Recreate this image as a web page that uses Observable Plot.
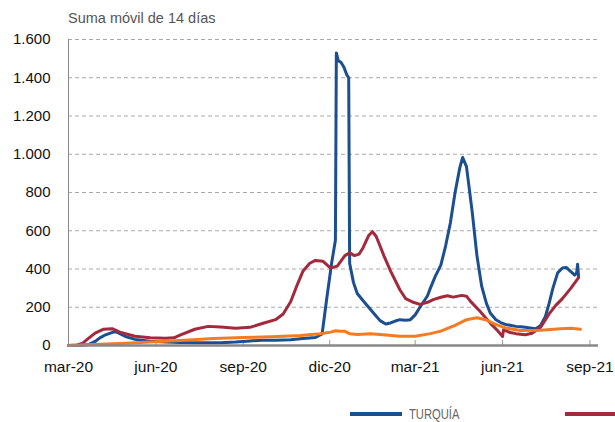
<!DOCTYPE html>
<html><head><meta charset="utf-8">
<script src="https://cdn.jsdelivr.net/npm/d3@7"></script>
<script src="https://cdn.jsdelivr.net/npm/@observablehq/plot@0.6"></script>
<style>
html,body{margin:0;padding:0;background:#fff;overflow:hidden;}
#wrap{position:relative;width:615px;height:422px;overflow:hidden;font-family:"Liberation Sans",Arial,Helvetica,sans-serif;}
#title{position:absolute;left:68px;top:10px;font-size:14.5px;color:#555;white-space:nowrap;}
#chart{position:absolute;left:0;top:30px;}
.sw{position:absolute;top:412px;height:4px;}
.lab{position:absolute;top:405px;font-family:"Liberation Sans",Arial,sans-serif;font-size:14px;color:#666;white-space:nowrap;line-height:18px;transform:scaleX(0.8);transform-origin:0 50%;}
</style>
</head><body>
<div id="wrap">
  <div id="title">Suma móvil de 14 días</div>
  <div id="chart"></div>
  <div class="sw" style="left:350px;width:52px;background:#1c4f92"></div>
  <div class="lab" style="left:409px">TURQUÍA</div>
  <div class="sw" style="left:565px;width:60px;background:#a32a3c"></div>
</div>
<script>
// ---- data (14-day moving sum) ----
const turquia = [
["2020-03-01",0],["2020-03-14",0],["2020-03-22",5],["2020-03-29",21],["2020-04-03",40],["2020-04-09",56],
["2020-04-17",70],["2020-04-20",72],["2020-04-24",62],["2020-05-01",45],["2020-05-10",32],["2020-05-26",22],
["2020-06-11",18],["2020-06-27",16],["2020-07-12",14],["2020-07-26",14],["2020-08-08",15],["2020-08-24",18],
["2020-09-08",24],["2020-09-21",28],["2020-10-05",28],["2020-10-21",30],["2020-11-03",36],["2020-11-16",42],
["2020-11-23",60],["2020-11-28",250],["2020-12-03",430],["2020-12-07",550],["2020-12-08",1530],["2020-12-10",1490],
["2020-12-13",1480],["2020-12-16",1455],["2020-12-19",1415],["2020-12-21",1400],["2020-12-22",430],["2020-12-26",330],["2020-12-30",272],
["2021-01-05",235],["2021-01-11",200],["2021-01-17",165],["2021-01-23",130],["2021-01-29",112],["2021-02-03",118],
["2021-02-08",128],["2021-02-13",135],["2021-02-19",132],["2021-02-24",135],["2021-03-01",160],["2021-03-06",200],
["2021-03-14",260],["2021-03-17",300],["2021-03-22",360],["2021-03-28",420],["2021-04-02",520],["2021-04-07",640],
["2021-04-12",800],["2021-04-17",930],["2021-04-20",983],["2021-04-24",935],["2021-04-30",700],["2021-05-05",470],
["2021-05-10",310],["2021-05-15",220],["2021-05-19",170],["2021-05-25",135],["2021-05-30",120],["2021-06-04",110],
["2021-06-09",106],["2021-06-15",100],["2021-06-20",98],["2021-06-25",95],["2021-06-30",92],["2021-07-06",88],
["2021-07-11",105],["2021-07-16",150],["2021-07-20",220],["2021-07-24",300],["2021-07-29",380],["2021-08-03",405],
["2021-08-07",408],["2021-08-11",390],["2021-08-16",368],["2021-08-18",380],["2021-08-19",425],["2021-08-20",360]
];
const zonaRoja = [
["2020-03-01",0],["2020-03-10",3],["2020-03-16",12],["2020-03-22",37],["2020-03-29",65],["2020-04-07",85],
["2020-04-16",88],["2020-04-24",70],["2020-05-10",48],["2020-05-26",40],["2020-06-11",38],["2020-06-20",40],
["2020-06-27",55],["2020-07-12",85],["2020-07-26",100],["2020-08-08",97],["2020-08-24",90],["2020-09-08",95],
["2020-09-21",115],["2020-10-05",135],["2020-10-13",165],["2020-10-21",230],["2020-10-28",320],["2020-11-03",390],
["2020-11-10",430],["2020-11-16",445],["2020-11-24",440],["2020-12-02",405],["2020-12-09",415],["2020-12-17",470],
["2020-12-22",485],["2020-12-27",470],["2021-01-01",478],["2021-01-05",510],["2021-01-11",575],["2021-01-15",595],
["2021-01-19",570],["2021-01-27",470],["2021-02-03",390],["2021-02-13",290],["2021-02-19",245],["2021-02-27",226],
["2021-03-06",215],["2021-03-14",226],["2021-03-20",240],["2021-03-28",252],["2021-04-04",260],["2021-04-10",253],
["2021-04-19",262],["2021-04-24",258],["2021-04-28",232],["2021-05-08",180],["2021-05-19",117],["2021-05-26",82],
["2021-06-01",47],["2021-06-02",82],["2021-06-09",68],["2021-06-15",62],["2021-06-25",56],["2021-07-02",64],
["2021-07-11",95],["2021-07-20",165],["2021-07-27",210],["2021-08-03",245],["2021-08-12",300],["2021-08-20",355]
];
const zonaNaranja = [
["2020-03-01",0],["2020-04-03",6],["2020-05-01",12],["2020-05-26",18],["2020-07-01",27],["2020-08-01",36],
["2020-09-01",42],["2020-10-01",46],["2020-10-31",52],["2020-11-21",62],["2020-12-02",70],["2020-12-07",77],
["2020-12-12",75],["2020-12-17",74],["2020-12-22",62],["2020-12-30",58],["2021-01-13",62],["2021-01-23",57],
["2021-02-13",48],["2021-03-01",48],["2021-03-17",62],["2021-03-28",75],["2021-04-12",105],["2021-04-24",135],
["2021-05-05",145],["2021-05-14",135],["2021-05-24",112],["2021-06-04",92],["2021-06-20",78],["2021-07-11",80],
["2021-08-01",88],["2021-08-12",90],["2021-08-22",85]
];
const xTickDates = ["2020-03-01","2020-06-01","2020-09-01","2020-12-01","2021-03-01","2021-06-01","2021-09-01"];
const xTickLabels = ["mar-20","jun-20","sep-20","dic-20","mar-21","jun-21","sep-21"];
const yTicks = [0,200,400,600,800,1000,1200,1400,1600];
const xDomain = ["2020-03-01","2021-09-10"];

const parse = s => new Date(s + "T00:00:00Z");
const toRows = arr => arr.map(([d,v]) => ({date: parse(d), value: v}));
const tickDates = xTickDates.map(parse);
const labelOf = new Map(tickDates.map((d,i) => [+d, xTickLabels[i]]));
const esFmt = d3.formatLocale({decimal:",", thousands:".", grouping:[3], currency:["","€"]}).format(",");

const chart = Plot.plot({
  width: 615, height: 352,
  marginLeft: 68, marginRight: 17, marginTop: 9, marginBottom: 37,
  style: {fontFamily: '"Liberation Sans", Arial, Helvetica, sans-serif', fontSize: "15px", color: "#111", background: "#fff"},
  x: {type: "utc", domain: xDomain.map(parse)},
  y: {domain: [0, 1600]},
  marks: [
    Plot.ruleY(yTicks.filter(v => v > 0), {stroke: "#aaa", strokeDasharray: "4,3", strokeWidth: 1}),
    Plot.ruleX([parse(xDomain[0])], {stroke: "#888", strokeWidth: 1}),
    Plot.axisY({ticks: yTicks, tickSize: 0, tickPadding: 18, tickFormat: esFmt, label: null, fontSize: 15, fill: "#111"}),
    Plot.axisX({ticks: tickDates.slice(1), tickSize: 5, dy: -5, tickFormat: () => "", label: null, stroke: "#999"}),
    Plot.axisX({ticks: tickDates, tickSize: 0, tickPadding: 15, tickFormat: d => labelOf.get(+d), label: null, fontSize: 15.5, fill: "#111"}),
    Plot.line(toRows(turquia), {x: "date", y: "value", stroke: "#1c4f92", strokeWidth: 3}),
    Plot.line(toRows(zonaRoja), {x: "date", y: "value", stroke: "#a32a3c", strokeWidth: 3}),
    Plot.line(toRows(zonaNaranja), {x: "date", y: "value", stroke: "#f47b20", strokeWidth: 3}),
    Plot.ruleY([0], {stroke: "#888", strokeWidth: 2.5})
  ]
});
document.getElementById("chart").appendChild(chart);
</script>
</body></html>
